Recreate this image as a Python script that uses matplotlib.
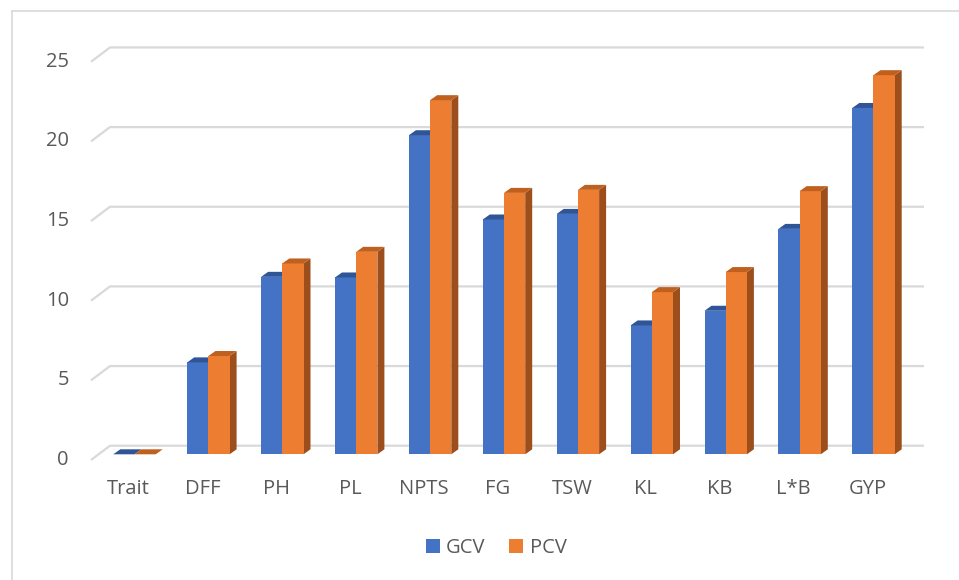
import matplotlib.pyplot as plt
from matplotlib.patches import Polygon, Patch
import numpy as np

traits = ['Trait', 'DFF', 'PH', 'PL', 'NPTS', 'FG', 'TSW', 'KL', 'KB', 'L*B', 'GYP']
gcv = [0, 5.77, 11.14, 11.1, 20.03, 14.74, 15.09, 8.09, 9.01, 14.15, 21.74]
pcv = [0, 6.17, 11.98, 12.71, 22.23, 16.41, 16.6, 10.18, 11.44, 16.52, 23.8]
yticks = [0, 5, 10, 15, 20, 25]

plt.rcParams['font.family'] = ['Open Sans', 'DejaVu Sans']

W, H = 959, 580
fig = plt.figure(figsize=(W / 100, H / 100), dpi=100)
ax = fig.add_axes([0, 0, 1, 1])

# pixel layout of the 3d plane (front face of the bars)
cat_px = 73.9
x0_px = 134.5
unit_px = 15.93
y0_px = 454.3
ax.set_xlim(-x0_px / cat_px, (W - x0_px) / cat_px)
ax.set_ylim((y0_px - H) / unit_px, y0_px / unit_px)
ax.axis('off')

def px_x(p):
    return p / cat_px

def px_y(p):
    return p / unit_px

bw = 21.2 / cat_px
ddx = px_x(7)
ddy = px_y(5)

grid_col = '#d9d9d9'
text_col = '#595959'

# chart border (only top and left visible)
ax.plot([px_x(12) - x0_px / cat_px, (W - x0_px) / cat_px],
        [(y0_px - 11) / unit_px] * 2, color=grid_col, lw=1.2, zorder=0)
ax.plot([px_x(12) - x0_px / cat_px] * 2,
        [(y0_px - 11) / unit_px, (y0_px - H) / unit_px], color=grid_col, lw=1.2, zorder=0)

# gridlines: back wall + slanted floor stub
back_l = (110 - x0_px) / cat_px
back_r = (924 - x0_px) / cat_px
front_l = (91 - x0_px) / cat_px
back_dy = px_y(454.3 - 445.7)
front_dy = px_y(460 - 454.3)
for t in yticks:
    ax.plot([front_l, back_l, back_r], [t - front_dy, t + back_dy, t + back_dy],
            color=grid_col, lw=1.6, zorder=1, solid_capstyle='butt')
    ax.text((69 - x0_px) / cat_px, t - front_dy, str(t), ha='right', va='center',
            fontsize=14.5, color=text_col)

def bar3d(xl, v, front, top, side):
    xr = xl + bw
    ax.add_patch(Polygon([(xl, 0), (xr, 0), (xr, v), (xl, v)], closed=True,
                         facecolor=front, edgecolor='none', zorder=3))
    ax.add_patch(Polygon([(xl, v), (xr, v), (xr + ddx, v + ddy), (xl + ddx, v + ddy)],
                         closed=True, facecolor=top, edgecolor='none', zorder=3))
    ax.add_patch(Polygon([(xr, 0), (xr + ddx, ddy), (xr + ddx, v + ddy), (xr, v)],
                         closed=True, facecolor=side, edgecolor='none', zorder=2.9))

x = np.arange(len(traits))
for i in x:
    bar3d(i - bw, gcv[i], '#4472c4', '#2f5597', '#2f5597')
    bar3d(i, pcv[i], '#ed7d31', '#c0601f', '#9c4e1c')
    ax.text(i - px_x(6), px_y(454.3 - 489), traits[i], ha='center', va='center',
            fontsize=14.5, color=text_col)

handles = [Patch(facecolor='#4472c4', label='GCV'), Patch(facecolor='#ed7d31', label='PCV')]
fig.legend(handles=handles, loc='center', bbox_to_anchor=(496 / W, 1 - 548 / H), ncol=2,
           frameon=False, fontsize=14.5, labelcolor=text_col, handlelength=0.7,
           handleheight=0.7, handletextpad=0.3, columnspacing=1.2)

fig.savefig('out.png', dpi=100)
